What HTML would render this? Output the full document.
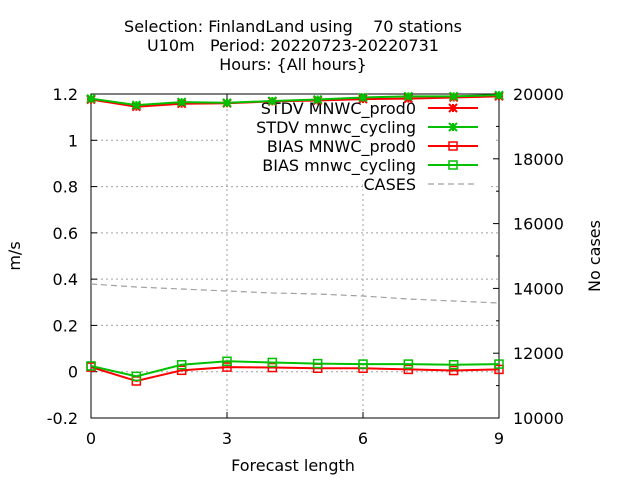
<!DOCTYPE html>
<html><head><meta charset="utf-8"><style>
html,body{margin:0;padding:0;background:#fff}
svg{display:block;font-family:"DejaVu Sans","Liberation Sans",sans-serif}
</style></head><body>
<svg id="c" width="640" height="480" viewBox="0 0 640 480" xmlns="http://www.w3.org/2000/svg">
<g id="title" font-size="16" text-anchor="middle" fill="#000">
<text x="293" y="32" xml:space="preserve">Selection: FinlandLand using    70 stations</text>
<text x="293" y="51" xml:space="preserve">U10m   Period: 20220723-20220731</text>
<text x="293" y="70">Hours: {All hours}</text>
</g>
<g id="grid"></g>
<g id="legend"></g>
<g id="axes"></g>
<g id="series"></g>
<text x="293" y="471" font-size="16" text-anchor="middle">Forecast length</text>
<text transform="translate(20,256) rotate(-90)" font-size="16" text-anchor="middle">m/s</text>
<text transform="translate(600,256) rotate(-90)" font-size="16" text-anchor="middle">No cases</text>
</svg>
<script>
const categories=[0,1,2,3,4,5,6,7,8,9];
const stdvProd0=[1.176,1.145,1.158,1.16,1.168,1.172,1.178,1.18,1.185,1.19];
const stdvCycling=[1.18,1.152,1.165,1.162,1.17,1.176,1.185,1.19,1.19,1.195];
const biasProd0=[0.02,-0.04,0.006,0.02,0.018,0.015,0.015,0.01,0.005,0.01];
const biasCycling=[0.025,-0.02,0.03,0.045,0.04,0.035,0.033,0.033,0.03,0.033];
const cases=[14136,14043,13981,13920,13858,13827,13765,13673,13611,13549];
const yTicks=[-0.2,0,0.2,0.4,0.6,0.8,1,1.2];
const yTickLabels=["-0.2","0","0.2","0.4","0.6","0.8","1","1.2"];
const y2Ticks=[10000,12000,14000,16000,18000,20000];
const xTicks=[0,3,6,9];

const NS="http://www.w3.org/2000/svg";
const L=91,R=499,T=94,B=418;
const X=v=>L+(v-0)/(9-0)*(R-L);
const Y=v=>B-(v+0.2)/1.4*(B-T);
const Y2=v=>B-(v-10000)/10000*(B-T);
function mk(tag,attrs,parent){const e=document.createElementNS(NS,tag);for(const k in attrs)e.setAttribute(k,attrs[k]);parent.appendChild(e);return e;}
const grid=document.getElementById('grid'),axes=document.getElementById('axes'),ser=document.getElementById('series'),leg=document.getElementById('legend');
const gs={stroke:"#a0a0a0","stroke-width":1,"stroke-dasharray":"2,3"};
yTicks.forEach((v,i)=>{
  if(v>-0.2&&v<1.2){const g=mk('line',Object.assign({x1:L,x2:R,y1:Y(v),y2:Y(v)},gs),grid);
  
  }
  const t=mk('line',{x1:L,x2:L+6,y1:Y(v),y2:Y(v),stroke:"#000"},axes);
  
  
  const tx=mk('text',{x:L-13,y:Y(v)+6,"font-size":16,"text-anchor":"end"},axes);
  
  
  tx.textContent=yTickLabels[i];
});
xTicks.forEach(v=>{
  if(v>0&&v<9){const g=mk('line',Object.assign({x1:X(v),x2:X(v),y1:T,y2:B},gs),grid);
  
  }
  const t=mk('line',{x1:X(v),x2:X(v),y1:B,y2:B-6,stroke:"#000"},axes);
  
  
  const t2=mk('line',{x1:X(v),x2:X(v),y1:T,y2:T+6,stroke:"#000"},axes);
  
  
  const tx=mk('text',{x:X(v),y:B+26,"font-size":16,"text-anchor":"middle"},axes);
  
  
  tx.textContent=v;
});
y2Ticks.forEach(v=>{
  const t=mk('line',{x1:R,x2:R-6,y1:Y2(v),y2:Y2(v),stroke:"#000"},axes);
  
  
  if(v<20000){const m=mk('line',{x1:R,x2:R-3,y1:Y2(v+1000),y2:Y2(v+1000),stroke:"#000"},axes);
  
  }
  const tx=mk('text',{x:R+14,y:Y2(v)+6,"font-size":16},axes);
  
  
  tx.textContent=v;
});
const bg1=mk('rect',{x:228,y:99,width:268,height:81,fill:"#fff"},leg);


const bg2=mk('rect',{x:363,y:180,width:127,height:13,fill:"#fff"},leg);


const border=mk('rect',{x:L,y:T,width:R-L,height:B-T,fill:"none",stroke:"#000","stroke-width":1},axes);



function star(g,x,y,c){
  const s=4;
  [[x-s,y,x+s,y],[x,y-s,x,y+s],[x-s,y-s,x+s,y+s],[x-s,y+s,x+s,y-s]].forEach(a=>mk('line',{x1:a[0],y1:a[1],x2:a[2],y2:a[3],stroke:c,"stroke-width":2},g));
}
function box(g,x,y,c){mk('rect',{x:x-4,y:y-4,width:8,height:8,fill:"none",stroke:c,"stroke-width":1.5},g);}
function drawSeries(name,vals,yf,color,mark,dash){
  const g=mk('g',{},ser);
  
  
  const pts=vals.map((v,i)=>X(categories[i])+","+yf(v)).join(" ");
  const p=mk('polyline',{points:pts,fill:"none",stroke:color,"stroke-width":dash?1.2:2,"stroke-dasharray":dash||"none"},g);
  
  
  if(mark)vals.forEach((v,i)=>mark(g,X(categories[i]),yf(v),color));
}
drawSeries('cases-series',cases,Y2,"#a0a0a0",null,"6,4");
drawSeries('bias-prod0-series',biasProd0,Y,"#ff0000",box);
drawSeries('bias-cycling-series',biasCycling,Y,"#00c000",box);
drawSeries('stdv-prod0-series',stdvProd0,Y,"#ff0000",star);
drawSeries('stdv-cycling-series',stdvCycling,Y,"#00c000",star);

const entries=[["STDV MNWC_prod0","#ff0000",star,null],["STDV mnwc_cycling","#00c000",star,null],["BIAS MNWC_prod0","#ff0000",box,null],["BIAS mnwc_cycling","#00c000",box,null],["CASES","#a0a0a0",null,"6,4"]];
entries.forEach((e,i)=>{
  const y=108+i*19;
  const g=mk('g',{},leg);
  
  
  const t=mk('text',{x:416,y:y+6,"font-size":16,"text-anchor":"end"},g);
  t.textContent=e[0];
  mk('line',{x1:428,x2:478,y1:y,y2:y,stroke:e[1],"stroke-width":e[3]?1.2:2,"stroke-dasharray":e[3]||"none"},g);
  if(e[2])e[2](g,453,y,e[1]);
});
</script>
</body></html>
